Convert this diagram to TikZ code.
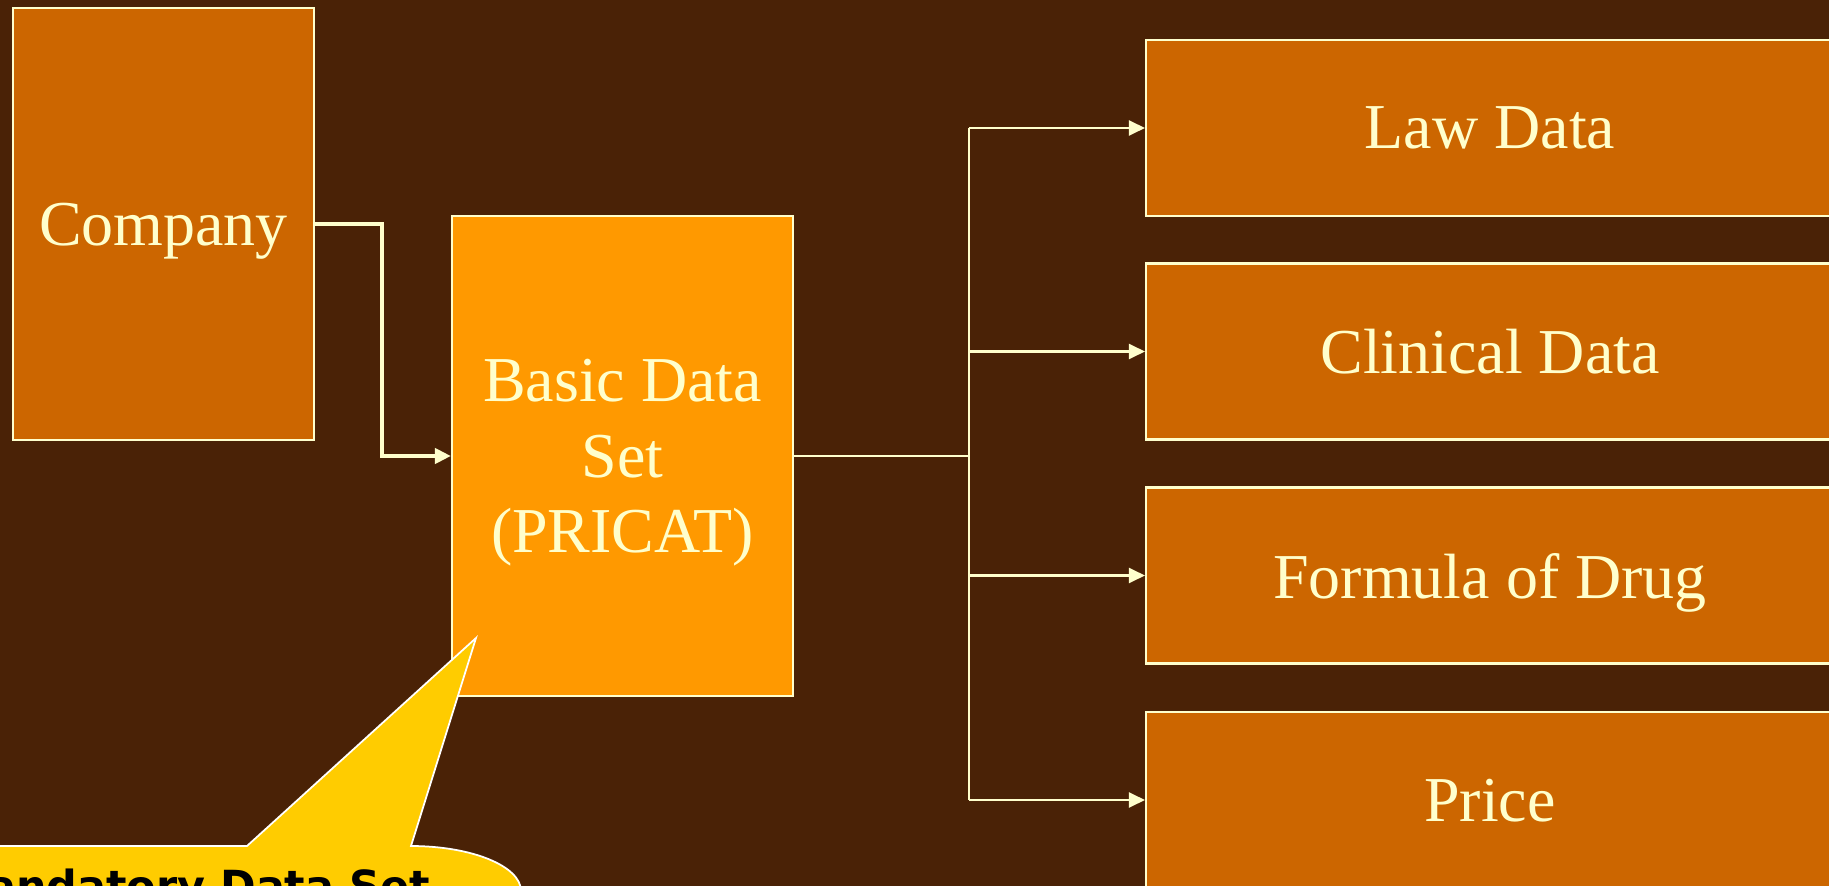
\documentclass[tikz,border=0pt]{standalone}
\usepackage{fontspec}
\setmainfont{Liberation Serif}
\newfontfamily\calloutfont{DejaVu Sans}
\usetikzlibrary{arrows.meta}
\definecolor{bgbrown}{RGB}{74,34,6}
\definecolor{boxorange}{RGB}{204,102,0}
\definecolor{basicorange}{RGB}{255,153,0}
\definecolor{paleline}{RGB}{255,255,204}
\definecolor{calloutyellow}{RGB}{255,204,0}

\begin{document}
\begin{tikzpicture}[x=0.1mm,y=-0.1mm]

\tikzset{
  databox/.style={draw=paleline, line width=0.6pt, fill=boxorange, text=paleline,
    font=\fontsize{18.2}{21.5}\selectfont, align=center, inner sep=0pt, text depth=0pt},
  link/.style={draw=paleline, line width=0.6pt},
  arrowlink/.style={link, -{Triangle[length=1.6mm,width=1.5mm]}},
}

\fill[bgbrown] (0,0) rectangle (1829,886);
\useasboundingbox (0,0) rectangle (1829,886);

\node[databox, minimum width=30.1mm, minimum height=43.2mm] (Company) at (163.5,224) {Company};
\node[databox, fill=basicorange, minimum width=34.1mm, minimum height=48mm] (Basic) at (622.5,456) {Basic Data\\Set\\(PRICAT)};
\node[databox, minimum width=68.8mm, minimum height=17.6mm] (Law) at (1490,128) {Law Data};
\node[databox, minimum width=68.8mm, minimum height=17.6mm] (Clinical) at (1490,351.5) {Clinical Data};
\node[databox, minimum width=68.8mm, minimum height=17.6mm] (Formula) at (1490,575.5) {Formula of Drug};
\node[databox, minimum width=68.8mm, minimum height=17.6mm] (Price) at (1490,800) {Price};

\coordinate (bend) at (382,223);
\coordinate (trunk) at (969,456);

\draw[arrowlink, line width=1.2pt] (Company.east) -- (bend |- Company.east) |- (Basic.west);

\draw[link] (Basic.east) -- (trunk);
\draw[link] (trunk |- Law.west) -- (trunk |- Price.west);
\foreach \target in {Law,Clinical,Formula,Price}
  \draw[arrowlink] (trunk |- \target.west) -- (\target.west);

% callout
\draw[fill=calloutyellow, draw=white, line width=0.5pt] (-20,846) -- (247,846) -- (476,638) -- (411,846)
  arc[start angle=-90, end angle=0, x radius=110, y radius=45] -- (521,1000) -- (-20,1000) -- cycle;
\node[font=\calloutfont\bfseries\fontsize{12.2}{14}\selectfont, anchor=base west, inner sep=0pt] (note) at (-56,901) {Mandatory Data Set};

\end{tikzpicture}
\end{document}
